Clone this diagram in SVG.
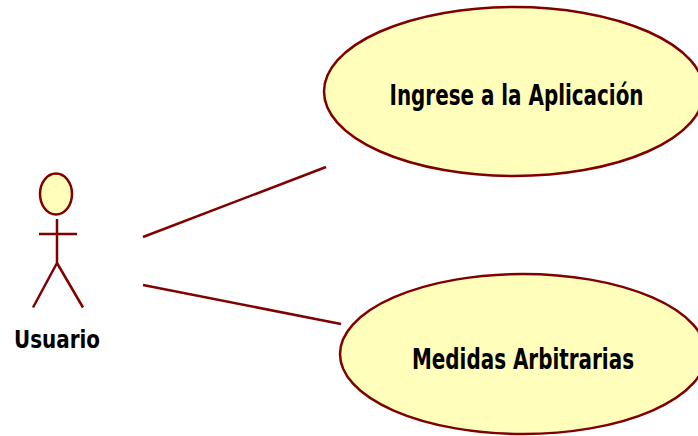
<svg xmlns="http://www.w3.org/2000/svg" width="698" height="436" viewBox="0 0 698 436">
<style>
.s{stroke:#800000;stroke-width:2.500;fill:none}
.f{fill:#ffffbb;stroke:#800000;stroke-width:2.500}
.t{font-family:"DejaVu Sans",Verdana,sans-serif;font-weight:bold;fill:#000}
</style>
<rect width="698" height="436" fill="#fff"/>
<g id="connectors">
<line class="s" x1="143" y1="237" x2="326" y2="167"/>
<line class="s" x1="143" y1="285" x2="341" y2="324"/>
</g>
<g id="actor-usuario">
<ellipse class="f" cx="56" cy="194" rx="16" ry="20.500"/>
<path class="s" d="M57 219V263M39 234H77M57 263L33 307.500M57 263L83 307.500"/>
<text class="t" x="57" y="347.500" font-size="25" text-anchor="middle" textLength="86" lengthAdjust="spacingAndGlyphs">Usuario</text>
</g>
<g id="usecase-ingrese">
<ellipse class="f" cx="514" cy="91.500" rx="190" ry="84.500"/>
<text class="t" x="516.500" y="105" font-size="28" text-anchor="middle" textLength="254" lengthAdjust="spacingAndGlyphs">Ingrese a la Aplicación</text>
</g>
<g id="usecase-medidas">
<ellipse class="f" cx="523" cy="354" rx="183" ry="80"/>
<text class="t" x="523" y="368.500" font-size="28" text-anchor="middle" textLength="222" lengthAdjust="spacingAndGlyphs">Medidas Arbitrarias</text>
</g>
</svg>
